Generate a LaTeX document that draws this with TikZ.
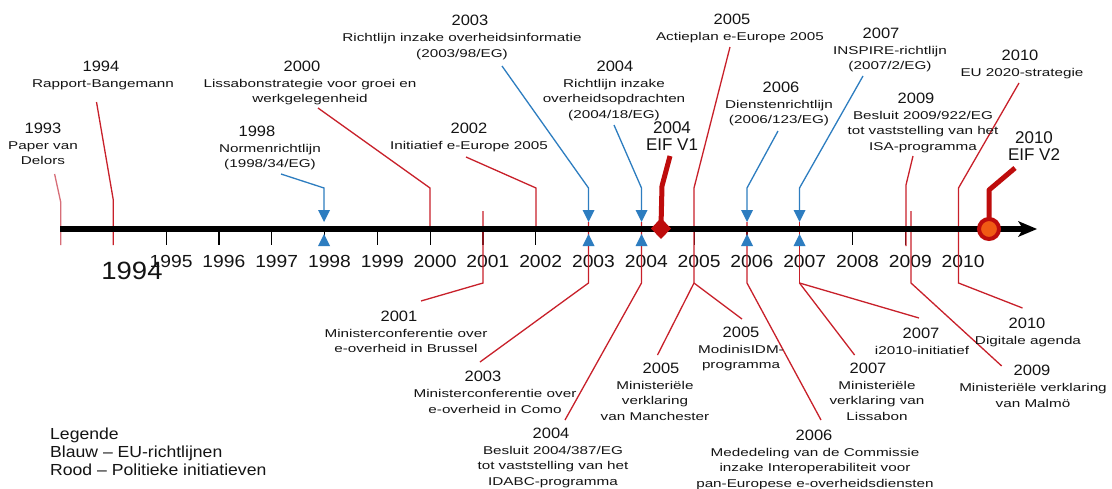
\documentclass[tikz,border=0pt]{standalone}
\usepackage{fontspec}
\setmainfont{Liberation Sans}
\newfontfamily\fa{Liberation Sans}[FakeStretch=1.1]
\newfontfamily\fb{Liberation Sans}[FakeStretch=1.35]
\newfontfamily\fc{Liberation Sans}
\definecolor{rl}{RGB}{200,32,42}
\definecolor{pk}{RGB}{215,110,120}
\definecolor{bl}{RGB}{45,125,192}
\definecolor{dr}{RGB}{190,12,12}
\definecolor{og}{RGB}{240,90,20}
\definecolor{tx}{RGB}{20,20,20}
\newcommand{\yrl}[2]{\makebox[0pt]{\hspace*{#1}{\fa\fontsize{15}{15}\selectfont #2}}}
\begin{document}
\begin{tikzpicture}[x=1pt,y=-1pt,
 redl/.style={draw=rl, line width=1.3pt},
 bluel/.style={draw=bl, line width=1.3pt},
 lbl/.style={anchor=north, align=center, inner sep=0pt, font=\fb\fontsize{11.3}{15.5}\selectfont, text=tx},
 tickm/.style={draw=black, line width=1.2pt},
 ylab/.style={font=\fa\fontsize{17.5}{18}\selectfont, inner sep=0pt, text=tx},
 eif/.style={anchor=north, align=center, inner sep=0pt, font=\fc\fontsize{17}{17}\selectfont, text=tx},
 leg/.style={anchor=north west, align=left, inner sep=0pt, font=\fa\fontsize{16}{18}\selectfont, text=tx},
]
\fill[white] (0,0) rectangle (1112,488);
\useasboundingbox (0,0) rectangle (1112,488);

% ticks and tick labels
\foreach \k in {1,...,16} {
  \pgfmathsetmacro{\xx}{113.3+52.8*\k}
  \pgfmathtruncatemacro{\yy}{1994+\k}
  \draw[tickm] (\xx,229) -- (\xx,245);
  \node[ylab] (tk\k) at (\xx+5,261) {\yy};
}
\draw[tickm] (113.3,229) -- (113.3,245);
\node[font=\fa\fontsize{25}{25}\selectfont, inner sep=0pt, text=tx] (big1994) at (132,271) {1994};

% red connectors
\draw[draw=pk, line width=1.3pt] (54.6,174) -- (60.7,202) -- (60.7,245);
\draw[redl] (96.5,102) -- (113.3,200) -- (113.3,245);
\draw[redl] (318,108) -- (430,188) -- (430,229);
\draw[redl] (466,157) -- (536,188) -- (536,229);
\draw[redl] (483,211) -- (483,283) -- (421,301);
\draw[redl] (588.5,222) -- (588.5,283) -- (480,362);
\draw[redl] (641.5,222) -- (641.5,283) -- (565,420);
\draw[redl] (730,47) -- (694,188) -- (694,283) coordinate (b05);
\draw[redl] (b05) -- (657.5,355);
\draw[redl] (b05) -- (742,319);
\draw[redl] (747,222) -- (747,283) -- (821,420);
\draw[redl] (799.5,222) -- (799.5,283) coordinate (b07);
\draw[redl] (b07) -- (919,318);
\draw[redl] (b07) -- (854.6,355);
\draw[redl] (913,156) -- (906,185) -- (906,246);
\draw[redl] (911,211) -- (911,283) -- (1001.7,366);
\draw[redl] (1019,83) -- (958.5,188) -- (958.5,283) -- (1022.5,308);

% blue connectors
\draw[bluel] (281,174) -- (324,188) -- (324,212);
\draw[bluel] (502,66) -- (588.5,188) -- (588.5,212);
\draw[bluel] (614,125) -- (641.5,188) -- (641.5,212);
\draw[bluel] (778,131) -- (747,188) -- (747,212);
\draw[bluel] (863,76) -- (799.5,188) -- (799.5,212);

% axis
\draw[line width=5.5pt] (60,229) -- (1024,229);
\fill[black] (1037,229) -- (1018,221) -- (1023,229) -- (1018,237) -- cycle;

% blue triangles
\foreach \x in {324,588.5,641.5,747,799.5} {
  \fill[bl] (\x-6,210) -- (\x+6,210) -- (\x,222) -- cycle;
  \fill[bl] (\x-6,246) -- (\x+6,246) -- (\x,234) -- cycle;
}

% EIF markers
\draw[dr, line width=5pt, line join=round] (670,156) -- (662,186) -- (661,226);
\fill[dr] (661,218) -- (671,228.5) -- (661,239) -- (651,228.5) -- cycle;
\draw[dr, line width=5pt, line join=round] (1015,168) -- (989,190) -- (989,222);
\draw[dr, line width=4pt, fill=og] (989,229) circle (10);

% top labels
\node[lbl] (t1993) at (43,122.5) {\yrl{0pt}{1993}\\[0.5pt] Paper van\\Delors};
\node[lbl] (t1994) at (103,60.5) {\yrl{-4pt}{1994}\\[0.5pt] Rapport-Bangemann};
\node[lbl] (t2000) at (310,60.5) {\yrl{-16pt}{2000}\\[0.5pt] Lissabonstrategie voor groei en\\werkgelegenheid};
\node[lbl] (t2003) at (462,14.5) {\yrl{16pt}{2003}\\[1pt] Richtlijn inzake overheidsinformatie\\(2003/98/EG)};
\node[lbl] (t2004) at (614,60.5) {\yrl{2pt}{2004}\\[0.5pt] Richtlijn inzake\\overheidsopdrachten\\(2004/18/EG)};
\node[lbl] (t2005) at (740,13.5) {\yrl{-16pt}{2005}\\[0.5pt] Actieplan e-Europe 2005};
\node[lbl] (t2006) at (779,81.5) {\yrl{4pt}{2006}\\[0.5pt] Dienstenrichtlijn\\(2006/123/EG)};
\node[lbl] (t2007) at (890,27.5) {\yrl{-18pt}{2007}\\[0.5pt] INSPIRE-richtlijn\\(2007/2/EG)};
\node[lbl] (t2010) at (1022,49.5) {\yrl{-4pt}{2010}\\[0.5pt] EU 2020-strategie};
\node[lbl] (t2009) at (923,92.5) {\yrl{-14pt}{2009}\\[0.5pt] Besluit 2009/922/EG\\tot vaststelling van het\\ISA-programma};
\node[lbl] (t1998) at (270,125.5) {\yrl{-26pt}{1998}\\[0.5pt] Normenrichtlijn\\(1998/34/EG)};
\node[lbl] (t2002) at (469,122.5) {\yrl{0pt}{2002}\\[0.5pt] Initiatief e-Europe 2005};
\node[eif] (eif1) at (672,121.5) {2004\\EIF V1};
\node[eif] (eif2) at (1034,131.5) {2010\\EIF V2};

% bottom labels
\node[lbl] (b2001) at (406,310.5) {\yrl{-14pt}{2001}\\[0.5pt] Ministerconferentie over\\e-overheid in Brussel};
\node[lbl] (b2003) at (495,370.5) {\yrl{-24pt}{2003}\\[1pt] Ministerconferentie over\\e-overheid in Como};
\node[lbl] (b2004) at (553,427.5) {\yrl{-4pt}{2004}\\[0.5pt] Besluit 2004/387/EG\\tot vaststelling van het\\IDABC-programma};
\node[lbl] (b2005m) at (655,362.5) {\yrl{12pt}{2005}\\[0.5pt] Ministeriële\\verklaring\\van Manchester};
\node[lbl] (b2005i) at (741,326.5) {\yrl{0pt}{2005}\\[0.5pt] ModinisIDM-\\programma};
\node[lbl] (b2006) at (815,429.5) {\yrl{-2pt}{2006}\\[0.5pt] Mededeling van de Commissie\\inzake Interoperabiliteit voor\\pan-Europese e-overheidsdiensten};
\node[lbl] (b2007i) at (922,327.5) {\yrl{-2pt}{2007}\\[0.5pt] i2010-initiatief};
\node[lbl] (b2007l) at (877,362.5) {\yrl{-18pt}{2007}\\[0.5pt] Ministeriële\\verklaring van\\Lissabon};
\node[lbl] (b2010) at (1028,317.5) {\yrl{-2pt}{2010}\\[0.5pt] Digitale agenda};
\node[lbl] (b2009) at (1033,364.5) {\yrl{-2pt}{2009}\\[1pt] Ministeriële verklaring\\van Malmö};

% legend
\node[leg] (legend) at (50,428) {Legende\\Blauw – EU-richtlijnen\\Rood – Politieke initiatieven};
\end{tikzpicture}
\end{document}
